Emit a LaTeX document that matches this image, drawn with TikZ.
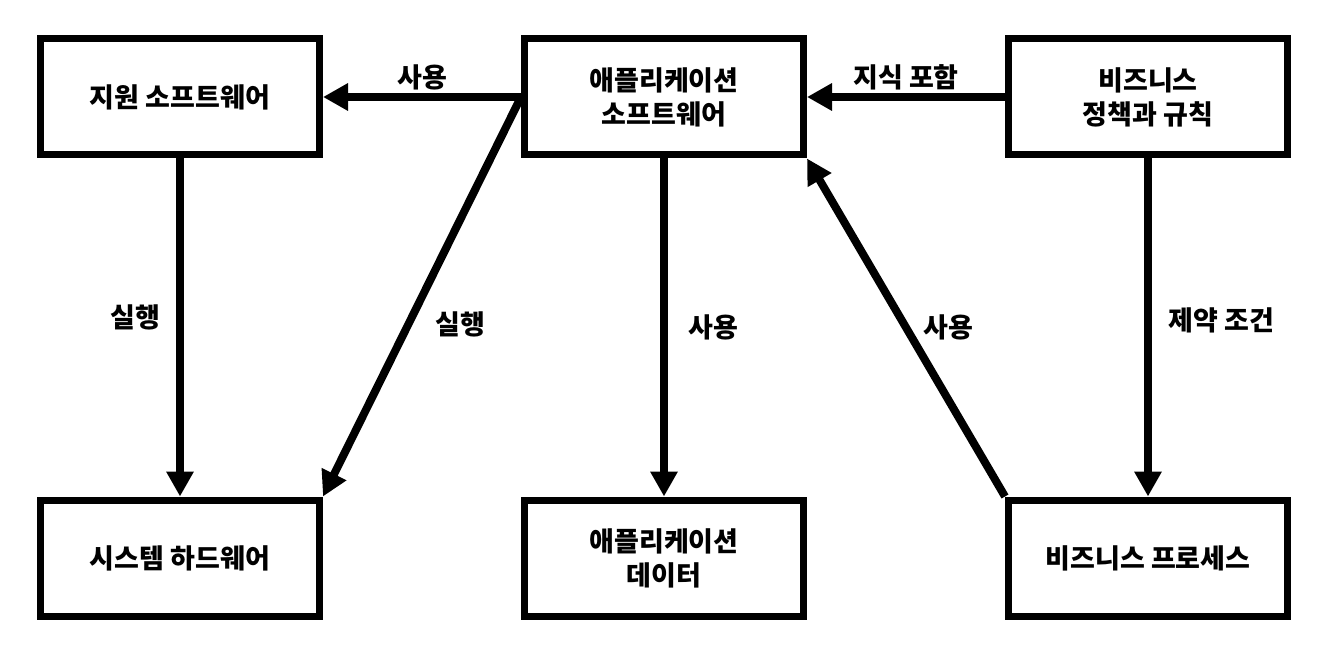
\documentclass[tikz,border=0pt]{standalone}
\usepackage{fontspec}
\setmainfont{Noto Sans CJK KR}
\usetikzlibrary{arrows.meta,positioning}

\begin{document}
\begin{tikzpicture}[x=1pt,y=-1pt,font=\fontsize{27}{34}\selectfont\bfseries,node distance=338pt and 198pt]
  \tikzstyle{box}=[draw,line width=7pt,minimum width=279pt,minimum height=116pt,align=center]
  \tikzstyle{link}=[line width=8pt,-{Triangle[length=25pt,width=26pt]}]
  \useasboundingbox (0,0) rectangle (1320,658);
  \node[box] (app) at (664,97) {애플리케이션\\소프트웨어};
  \node[box,left=of app] (sup) {지원 소프트웨어};
  \node[box,right=of app] (biz) {비즈니스\\정책과 규칙};
  \node[box,below=of sup] (hw) {시스템 하드웨어};
  \node[box,below=of app] (data) {애플리케이션\\데이터};
  \node[box,below=of biz] (proc) {비즈니스 프로세스};
  \draw[link] (app.west) -- node[above] {사용} (sup.east);
  \draw[link] (biz.west) -- node[above] {지식 포함} (app.east);
  \draw[link] (sup.south) -- node[pos=0.47,left=12pt] {실행} (hw.north);
  \draw[link] (app.west) -- node[pos=0.57,right=20pt] {실행} (hw.north east);
  \draw[link] (app.south) -- node[right=17pt] {사용} (data.north);
  \draw[link] (proc.north west) -- node[right=10pt] {사용} (app.south east);
  \draw[link] (biz.south) -- node[pos=0.48,right=13pt] {제약 조건} (proc.north);
\end{tikzpicture}
\end{document}
